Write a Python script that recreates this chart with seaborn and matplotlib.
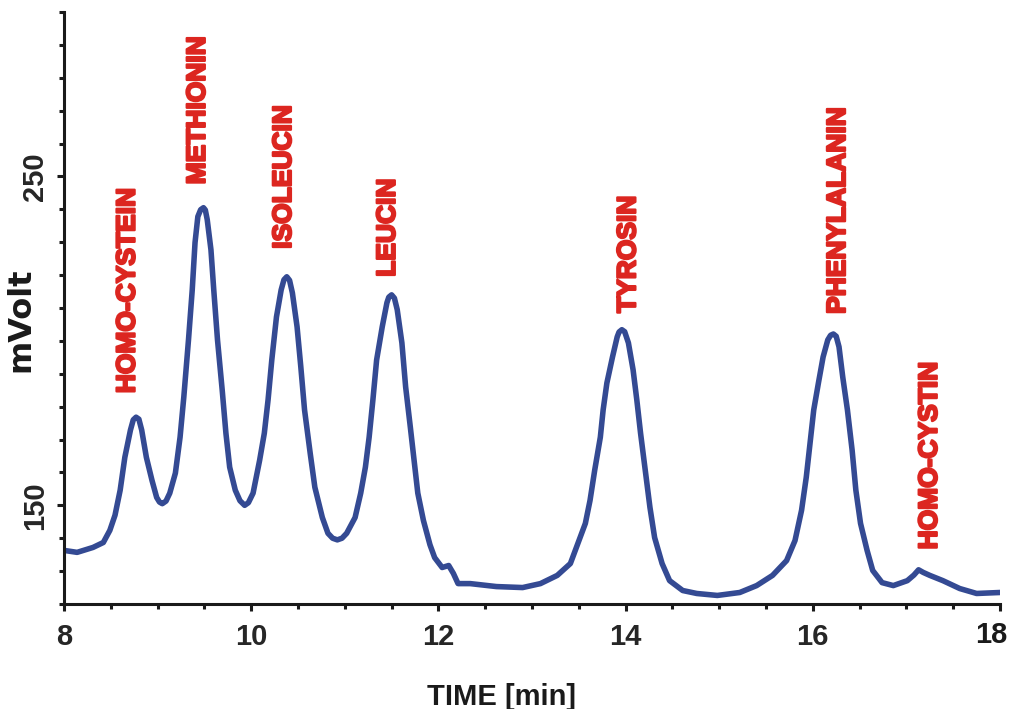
import numpy as np
import pandas as pd
import matplotlib
matplotlib.use("Agg")
import matplotlib.pyplot as plt
import matplotlib.patheffects as pe
from matplotlib.ticker import MultipleLocator, FixedLocator
import seaborn as sns

sns.set_style("ticks")
plt.rcParams['font.family'] = ['Liberation Sans', 'DejaVu Sans']

## chromatogram: time [min] / signal [mVolt]
time_min = [8.00, 8.14, 8.31, 8.42, 8.49, 8.545, 8.60, 8.65, 8.71, 8.74, 8.77, 8.80, 8.83, 8.88, 8.94, 8.99,
            9.02, 9.05, 9.09, 9.13, 9.19, 9.24, 9.28, 9.33, 9.37, 9.40, 9.43, 9.46, 9.49, 9.51, 9.53,
            9.57, 9.60, 9.64, 9.69, 9.73, 9.77, 9.83, 9.88, 9.93, 9.97, 10.02, 10.09, 10.14, 10.18,
            10.22, 10.27, 10.32, 10.35, 10.38, 10.41, 10.44, 10.49, 10.53, 10.57, 10.63, 10.68, 10.76,
            10.82, 10.87, 10.92, 10.97, 11.02, 11.11, 11.17, 11.22, 11.26, 11.30, 11.34, 11.40, 11.45,
            11.47, 11.50, 11.53, 11.56, 11.61, 11.65, 11.70, 11.74, 11.78, 11.84, 11.91, 11.96, 12.04,
            12.11, 12.16, 12.21, 12.34, 12.62, 12.90, 13.09, 13.27, 13.41, 13.49, 13.57, 13.62, 13.67,
            13.73, 13.76, 13.80, 13.86, 13.91, 13.93, 13.96, 13.99, 14.03, 14.08, 14.12, 14.16, 14.21,
            14.26, 14.31, 14.39, 14.47, 14.61, 14.76, 14.98, 15.22, 15.40, 15.57, 15.72, 15.81, 15.88,
            15.93, 15.97, 16.01, 16.06, 16.11, 16.16, 16.19, 16.22, 16.25, 16.28, 16.32, 16.37, 16.42,
            16.46, 16.51, 16.58, 16.64, 16.74, 16.86, 17.01, 17.08, 17.13, 17.18, 17.25, 17.39, 17.57,
            17.75, 18.00]
signal_mv = [136.3, 135.7, 137.2, 138.7, 142.4, 147.0, 154.6, 164.6, 172.9, 176.0, 176.8, 176.2, 172.9, 164.6, 157.6, 152.4,
             151.0, 150.5, 151.3, 153.7, 159.8, 170.7, 182.9, 200.3, 215.5, 229.9, 237.8, 239.9, 240.5, 239.8, 236.9,
             227.7, 215.5, 200.3, 185.1, 171.9, 161.6, 154.6, 151.4, 150.0, 150.8, 153.7, 163.7, 171.9, 182.0,
             194.2, 207.3, 215.5, 218.6, 219.5, 218.4, 214.6, 204.3, 192.1, 179.0, 165.9, 155.5, 146.3,
             141.5, 140.0, 139.5, 140.0, 141.5, 146.3, 153.7, 161.6, 170.7, 182.0, 194.2, 204.3, 211.6,
             213.3, 214.0, 213.0, 209.5, 199.4, 186.0, 173.8, 163.7, 153.7, 145.4, 138.0, 134.1, 131.1,
             131.7, 129.3, 126.2, 126.2, 125.3, 125.0, 126.2, 128.7, 132.3, 138.4, 144.5, 151.5, 160.7,
             170.7, 179.0, 187.2, 195.1, 201.2, 202.7, 203.4, 202.8, 199.4, 191.2, 182.0, 171.9, 160.7,
             149.4, 140.2, 132.3, 127.1, 124.1, 123.2, 122.6, 123.5, 125.6, 128.7, 133.2, 139.3, 148.5,
             158.5, 168.9, 179.0, 187.2, 195.1, 200.3, 201.7, 202.1, 201.4, 198.2, 189.0, 179.0, 166.8,
             154.6, 144.5, 136.3, 130.2, 126.5, 125.6, 127.1, 128.8, 130.4, 129.6, 128.7, 127.1, 124.7,
             123.2, 123.5]

## peak names and where their (rotated) labels start
peak_names = ["HOMO-CYSTEIN", "METHIONIN", "ISOLEUCIN", "LEUCIN", "TYROSIN", "PHENYLALANIN", "HOMO-CYSTIN"]
label_time = [8.68, 9.43, 10.35, 11.46, 14.03, 16.27, 17.25]
label_mv = [184.1, 247.6, 228.0, 219.5, 208.5, 208.2, 136.6]

x_ticks = [8, 10, 12, 14, 16, 18]
y_ticks = [150, 250]

df = pd.DataFrame({"time": time_min, "mV": signal_mv})

fig = plt.figure(figsize=(10.12, 7.09), dpi=100)
ax = fig.add_axes([64/1012, 1-604/709, 936/1012, 592/709])

sns.lineplot(data=df, x="time", y="mV", ax=ax, color="#344A93", linewidth=4.0, sort=False)

# heavier red labels, like the original's blocky font
heavy_red = [pe.withStroke(linewidth=1.6, foreground="#DC2620")]
for name, t, v in zip(peak_names, label_time, label_mv):
    ax.text(t, v, name, rotation=90, ha="center", va="bottom", color="#DC2620",
            fontsize=19, fontweight="bold", path_effects=heavy_red)

ax.set_xlim(8, 18)
ax.set_ylim(120, 300)
ax.xaxis.set_major_locator(FixedLocator(x_ticks))
ax.xaxis.set_minor_locator(MultipleLocator(0.5))
ax.yaxis.set_major_locator(FixedLocator(y_ticks))
ax.yaxis.set_minor_locator(MultipleLocator(10))
# the last label (18) is drawn separately, nudged left so it stays in the picture
ax.set_xticklabels([str(t) for t in x_ticks[:-1]] + [""])
ax.annotate(str(x_ticks[-1]), xy=(x_ticks[-1], 0), xycoords=ax.get_xaxis_transform(),
            xytext=(-6, -12.5), textcoords="offset points", ha="center", va="top",
            fontsize=21, fontweight="bold", color="#1a1a1a")

sns.despine(ax=ax)
for s in ["left", "bottom"]:
    ax.spines[s].set_linewidth(2.2)
    ax.spines[s].set_color("#1a1a1a")
ax.tick_params(which="major", length=5, width=2.2, color="#1a1a1a")
ax.tick_params(which="minor", length=3.5, width=2.2, color="#1a1a1a")
ax.tick_params(axis="x", which="major", labelsize=21, pad=9)
ax.tick_params(axis="y", which="major", labelsize=21, pad=6)
for lb in ax.get_xticklabels():
    lb.set_fontweight("bold")
for lb in ax.get_yticklabels():
    lb.set_fontweight("bold")
    lb.set_rotation(90)
    lb.set_va("center")

ax.set_xlabel("TIME [min]", fontsize=21, fontweight="bold", color="#1a1a1a")
ax.xaxis.set_label_coords(0.467, -0.133)
ax.set_ylabel("mVolt", fontsize=23, fontweight="bold", color="#1a1a1a", family="DejaVu Sans")
ax.yaxis.set_label_coords(-0.030, 0.48)

fig.savefig("out.png", dpi=100)
